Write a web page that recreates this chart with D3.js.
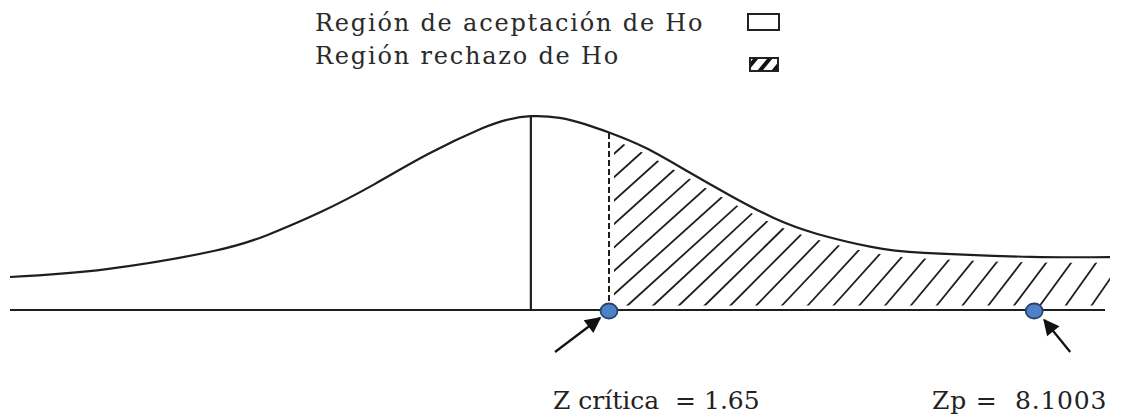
<!DOCTYPE html>
<html>
<head>
<meta charset="utf-8">
<script src="https://cdn.jsdelivr.net/npm/d3@7"></script>
<style>
  html, body { margin: 0; padding: 0; background: #fff; }
  svg { display: block; }
  text { white-space: pre; }
</style>
</head>
<body>
<svg id="chart" width="1121" height="417"></svg>
<script>
// Schematic density curve for a right-tailed Z test
const zCrit = 1.65;      // critical value
const zP = 8.1003;       // test statistic
const zMin = -11.0;
const zMax = 9.25;

// curve outline: z position and relative height (peak = 1)
const curveZ = [-11.0, -8.96, -6.70, -5.56, -4.44, -3.30, -2.16, -1.04, -0.51, 0, 0.61, 1.14, 1.65, 2.21, 2.86, 3.50, 4.15, 4.81, 5.63, 6.43, 8.05, 9.25];
const curveH = [0.170, 0.211, 0.304, 0.387, 0.505, 0.649, 0.805, 0.935, 0.980, 0.999, 0.990, 0.958, 0.915, 0.835, 0.711, 0.588, 0.474, 0.392, 0.325, 0.294, 0.274, 0.273];

const legendLabels = ["Región de aceptación de Ho", "Región rechazo de Ho"];
const bottomLabels = ["Z crítica  = " + zCrit.toFixed(2), "Zp =  " + zP.toFixed(4)];

const svg = d3.select("#chart");
const W = 1121, H = 417;
const ink = "#1e1e1e";

// the axis is drawn to schematic scale: the tail beyond the critical value is stretched
const x = d3.scaleLinear().domain([zMin, zCrit, zMax]).range([10, 609, 1110]);
const y = d3.scaleLinear().domain([0, 1]).range([310, 116]);

const pts = curveZ.map((z, i) => ({ z, h: curveH[i] }));
const smooth = d3.curveNatural;
const curveGen = d3.line().x(d => x(d.z)).y(d => y(d.h)).curve(smooth);

// curve height at a given pixel x (along the drawn path)
const pathNode = svg.append("path").attr("d", curveGen(pts)).attr("fill", "none").attr("stroke", "none").node();
const totalLen = pathNode.getTotalLength();
function yAtX(px) {
  let lo = 0, hi = totalLen;
  for (let k = 0; k < 40; k++) {
    const mid = (lo + hi) / 2;
    if (pathNode.getPointAtLength(mid).x < px) lo = mid; else hi = mid;
  }
  return pathNode.getPointAtLength(lo).y;
}

// rejection region: everything under the curve right of the critical value
const base = y(0);
const x0 = x(zCrit), x1 = x(zMax);
const defs = svg.append("defs");
const mask = defs.append("mask").attr("id", "tailMask").attr("maskUnits", "userSpaceOnUse")
  .attr("x", 0).attr("y", 0).attr("width", W).attr("height", H);
defs.append("clipPath").attr("id", "rightOfCrit").append("rect")
  .attr("x", x0).attr("y", 0).attr("width", x1 - x0).attr("height", base);
mask.append("path")
  .attr("d", curveGen(pts) + `L${x1},${base}L${x(zMin)},${base}Z`)
  .attr("fill", "#fff").attr("clip-path", "url(#rightOfCrit)");
mask.append("path").attr("d", curveGen(pts)).attr("fill", "none").attr("stroke", "#000").attr("stroke-width", 11);
mask.append("line").attr("x1", x0).attr("x2", x1).attr("y1", base).attr("y2", base)
  .attr("stroke", "#000").attr("stroke-width", 9);
mask.append("line").attr("x1", x0).attr("x2", x0).attr("y1", 0).attr("y2", H)
  .attr("stroke", "#000").attr("stroke-width", 10);

// hatch lines, intercepts along the baseline
const spacing = 26;
const intercepts = d3.range(x0 - 200, x1 + 10, spacing);
const hatch = svg.append("g").attr("mask", "url(#tailMask)");
hatch.selectAll("line").data(intercepts).join("line")
  .attr("x1", c => c)
  .attr("y1", base + 5)
  .attr("x2", c => {
    const t = Math.max(0, Math.min(1, (c - x0) / (x1 - x0)));
    const ang = (42 + 14 * t) * Math.PI / 180;
    return c + 220 / Math.tan(ang);
  })
  .attr("y2", base - 215)
  .attr("stroke", ink).attr("stroke-width", 1.8);

// baseline
svg.append("line").attr("x1", x(zMin)).attr("x2", x(zMax) - 5).attr("y1", base).attr("y2", base)
  .attr("stroke", ink).attr("stroke-width", 2);

// mean line
svg.append("line").attr("x1", x(0)).attr("x2", x(0)).attr("y1", base).attr("y2", yAtX(x(0)))
  .attr("stroke", ink).attr("stroke-width", 2.2);

// critical value (dashed)
svg.append("line").attr("x1", x0).attr("x2", x0).attr("y1", base).attr("y2", yAtX(x0))
  .attr("stroke", ink).attr("stroke-width", 2).attr("stroke-dasharray", "6,3");

// curve
svg.append("path").attr("d", curveGen(pts)).attr("fill", "none").attr("stroke", ink).attr("stroke-width", 2.2);

// markers on the axis
svg.selectAll("ellipse.pt").data([zCrit, zP]).join("ellipse")
  .attr("class", "pt")
  .attr("cx", d => x(d)).attr("cy", base + 1)
  .attr("rx", 8.5).attr("ry", 7.5)
  .attr("fill", "#4f81c7").attr("stroke", "#25456e").attr("stroke-width", 1.8);

// arrows pointing to the markers
defs.append("marker").attr("id", "head").attr("viewBox", "0 0 10 10")
  .attr("refX", 9).attr("refY", 5).attr("markerWidth", 18).attr("markerHeight", 16)
  .attr("markerUnits", "userSpaceOnUse").attr("orient", "auto")
  .append("path").attr("d", "M0,0 L10,5 L0,10 Z").attr("fill", "#111");

const arrows = [
  { z: zCrit, dx0: -54, dy0: 42, dx1: -9, dy1: 8 },
  { z: zP, dx0: 36, dy0: 42, dx1: 10, dy1: 10 }
];
svg.selectAll("line.arrow").data(arrows).join("line")
  .attr("class", "arrow")
  .attr("x1", d => x(d.z) + d.dx0).attr("y1", d => base + d.dy0)
  .attr("x2", d => x(d.z) + d.dx1).attr("y2", d => base + d.dy1)
  .attr("stroke", "#111").attr("stroke-width", 2.2)
  .attr("marker-end", "url(#head)");

// labels under the arrows
const labelFont = "'DejaVu Serif', serif";
svg.append("text").attr("x", 553).attr("y", 409).text(bottomLabels[0])
  .attr("font-family", labelFont).attr("font-size", 25).attr("fill", "#222");
svg.append("text").attr("x", 932).attr("y", 409).text(bottomLabels[1])
  .attr("font-family", labelFont).attr("font-size", 25).attr("letter-spacing", 0.8).attr("fill", "#222");

// legend
const legendFont = "'DejaVu Serif', serif";
svg.append("text").attr("x", 315).attr("y", 31).text(legendLabels[0])
  .attr("font-family", legendFont).attr("font-size", 24).attr("letter-spacing", 1.8).attr("fill", "#2a2a2a");
svg.append("text").attr("x", 315).attr("y", 64).text(legendLabels[1])
  .attr("font-family", legendFont).attr("font-size", 24).attr("letter-spacing", 1.8).attr("fill", "#2a2a2a");

svg.append("rect").attr("x", 748).attr("y", 14).attr("width", 31).attr("height", 16)
  .attr("fill", "#fff").attr("stroke", "#222").attr("stroke-width", 2);

defs.append("clipPath").attr("id", "legClip").append("rect")
  .attr("x", 750).attr("y", 58).attr("width", 28).attr("height", 13);
const leg2 = svg.append("g").attr("clip-path", "url(#legClip)");
leg2.selectAll("line").data([-14, 0, 14]).join("line")
  .attr("x1", d => 758 + d).attr("y1", 73)
  .attr("x2", d => 772 + d).attr("y2", 56)
  .attr("stroke", "#111").attr("stroke-width", 4);
svg.append("rect").attr("x", 750).attr("y", 58).attr("width", 28).attr("height", 13)
  .attr("fill", "none").attr("stroke", "#222").attr("stroke-width", 2);
</script>
</body>
</html>
